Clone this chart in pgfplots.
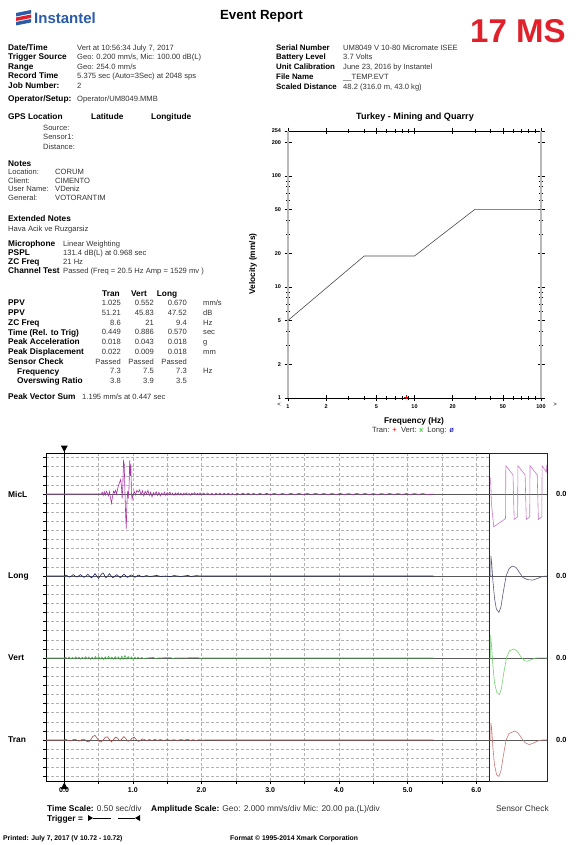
\documentclass[border=0pt]{standalone}
\usepackage{fontspec}
\setmainfont{Liberation Sans}
\usepackage{pgfplots}
\pgfplotsset{compat=1.18}
\definecolor{micc}{HTML}{A832A8}
\definecolor{longc}{HTML}{1E2464}
\definecolor{vertc}{HTML}{3CB43C}
\definecolor{tranc}{HTML}{B04646}
\definecolor{smic}{HTML}{C878C8}
\definecolor{slong}{HTML}{5A5A78}
\definecolor{svert}{HTML}{78D278}
\definecolor{stran}{HTML}{C87878}
\definecolor{instblue}{HTML}{2A5CA8}
\definecolor{msred}{HTML}{E0202A}
\newcommand{\ft}{\fontsize{7.6}{9}\selectfont}
\newcommand{\fb}{\fontsize{8.3}{9}\selectfont\bfseries}
\newcommand{\ff}{\fontsize{8.4}{9}\selectfont}
% label (bold) / value text, y = visual centre measured from the top of the page
\newcommand{\Lb}[3]{\node[anchor=base west,inner sep=0pt,yshift=-2.9pt,font=\fb] at (#1pt,-#2pt) {#3};}
\newcommand{\Lr}[3]{\node[anchor=base west,inner sep=0pt,yshift=-2.8pt,font=\fontsize{7.9}{9}\selectfont\bfseries] at (#1pt,-#2pt) {#3};}
\newcommand{\Tx}[3]{\node[anchor=base west,inner sep=0pt,yshift=-2.7pt,font=\ft,text=black!80] at (#1pt,-#2pt) {#3};}
\newcommand{\Tr}[3]{\node[anchor=base east,inner sep=0pt,yshift=-2.7pt,font=\ft,text=black!80] at (#1pt,-#2pt) {#3};}
\newcommand{\Tc}[3]{\node[anchor=base,inner sep=0pt,yshift=-2.9pt,font=\fb] at (#1pt,-#2pt) {#3};}
\begin{document}
\begin{tikzpicture}
\path[use as bounding box,fill=white] (0pt,0pt) rectangle (580pt,-845pt);

% ---------- header ----------
\begin{scope}[x=1pt,y=1pt]
\fill[instblue] (16,-13) -- (31,-10) -- (31,-13.5) -- (16,-16.5) -- cycle;
\fill[msred] (16,-17.5) -- (31,-14.5) -- (31,-18) -- (16,-21) -- cycle;
\fill[instblue] (16,-22) -- (31,-19) -- (31,-22.5) -- (16,-25.5) -- cycle;
\end{scope}
\node[anchor=base west,inner sep=0pt,font=\fontsize{15}{16}\selectfont\bfseries,text=instblue] at (34pt,-24pt) {Instantel};
\node[anchor=base,inner sep=0pt,font=\fontsize{13.3}{14}\selectfont\bfseries] at (261.5pt,-20pt) {Event Report};
\node[anchor=base west,inner sep=0pt,font=\fontsize{33}{34}\selectfont\bfseries,text=msred] at (470pt,-43pt) {17 MS};

\Lb{8}{48}{Date/Time}        \Tx{77}{48}{Vert at 10:56:34 July 7, 2017}
\Lb{8}{57}{Trigger Source}   \Tx{77}{57}{Geo: 0.200 mm/s, Mic: 100.00 dB(L)}
\Lb{8}{66.5}{Range}          \Tx{77}{66.5}{Geo: 254.0 mm/s}
\Lb{8}{76}{Record Time}      \Tx{77}{76}{5.375 sec (Auto=3Sec) at 2048 sps}
\Lb{8}{85.5}{Job Number:}    \Tx{77}{85.5}{2}
\Lb{8}{99}{Operator/Setup:}  \Tx{77}{99}{Operator/UM8049.MMB}

\Lr{276}{48}{Serial Number}     \Tx{343}{48}{UM8049 V 10-80 Micromate ISEE}
\Lr{276}{57}{Battery Level}     \Tx{343}{57}{3.7 Volts}
\Lr{276}{67}{Unit Calibration}  \Tx{343}{67}{June 23, 2016 by Instantel}
\Lr{276}{77}{File Name}         \Tx{343}{77}{\_\_TEMP.EVT}
\Lr{276}{87}{Scaled Distance}   \Tx{343}{87}{48.2 (316.0 m, 43.0 kg)}

\Lb{8}{117}{GPS Location} \Lb{91}{117}{Latitude} \Lb{151}{117}{Longitude}
\Tx{43}{128}{Source:}
\Tx{43}{137}{Sensor1:}
\Tx{43}{147}{Distance:}
\Lb{8}{163.5}{Notes}
\Tx{8}{172}{Location:}  \Tx{55}{172}{CORUM}
\Tx{8}{180.5}{Client:}  \Tx{55}{180.5}{CIMENTO}
\Tx{8}{189}{User Name:} \Tx{55}{189}{VDeniz}
\Tx{8}{197.5}{General:} \Tx{55}{197.5}{VOTORANTIM}
\Lb{8}{219}{Extended Notes}
\Tx{8}{228.5}{Hava Acik ve Ruzgarsiz}
\Lb{8}{243.5}{Microphone}   \Tx{63}{243.5}{Linear Weighting}
\Lb{8}{253}{PSPL}           \Tx{63}{253}{131.4 dB(L) at 0.968 sec}
\Lb{8}{262}{ZC Freq}        \Tx{63}{262}{21 Hz}
\Lb{8}{270.5}{Channel Test} \Tx{63}{270.5}{Passed (Freq = 20.5 Hz Amp = 1529 mv )}

\Tc{111}{294}{Tran} \Tc{139}{294}{Vert} \Tc{167}{294}{Long}
\Lb{8}{303}{PPV}                 \Tr{121}{303}{1.025} \Tr{154}{303}{0.552} \Tr{187}{303}{0.670} \Tx{203}{303}{mm/s}
\Lb{8}{312.75}{PPV}              \Tr{121}{312.75}{51.21} \Tr{154}{312.75}{45.83} \Tr{187}{312.75}{47.52} \Tx{203}{312.75}{dB}
\Lb{8}{322.5}{ZC Freq}           \Tr{121}{322.5}{8.6} \Tr{154}{322.5}{21} \Tr{187}{322.5}{9.4} \Tx{203}{322.5}{Hz}
\Lb{8}{332.25}{Time (Rel. to Trig)} \Tr{121}{332.25}{0.449} \Tr{154}{332.25}{0.886} \Tr{187}{332.25}{0.570} \Tx{203}{332.25}{sec}
\Lb{8}{342}{Peak Acceleration}   \Tr{121}{342}{0.018} \Tr{154}{342}{0.043} \Tr{187}{342}{0.018} \Tx{203}{342}{g}
\Lb{8}{351.75}{Peak Displacement} \Tr{121}{351.75}{0.022} \Tr{154}{351.75}{0.009} \Tr{187}{351.75}{0.018} \Tx{203}{351.75}{mm}
\Lb{8}{361.5}{Sensor Check}      \Tr{121}{361.5}{Passed} \Tr{154}{361.5}{Passed} \Tr{187}{361.5}{Passed}
\Lb{17}{371.25}{Frequency}       \Tr{121}{371.25}{7.3} \Tr{154}{371.25}{7.5} \Tr{187}{371.25}{7.3} \Tx{203}{371.25}{Hz}
\Lb{17}{381}{Overswing Ratio}    \Tr{121}{381}{3.8} \Tr{154}{381}{3.9} \Tr{187}{381}{3.5}
\Lb{8}{397}{Peak Vector Sum}     \Tx{82}{397}{1.195 mm/s at 0.447 sec}

% ---------- frequency chart ----------
\node[font=\fontsize{9.1}{10}\selectfont\bfseries] at (415pt,-117pt) {Turkey - Mining and Quarry};
\node[rotate=90,font=\fb] at (253pt,-264pt) {Velocity (mm/s)};
\node[font=\fb] at (414pt,-421pt) {Frequency (Hz)};
\node[font=\ft,text=black!80] at (413pt,-431pt) {Tran: {\color{red}+}\ \ Vert: {\color{green!70!black}x}\ \ Long: {\color{blue!70!black}ø}};
\node[font=\fontsize{6}{7}\selectfont] at (279pt,-405pt) {<};
\node[font=\fontsize{6}{7}\selectfont] at (555pt,-405pt) {>};
\begin{axis}[at={(288pt,-398pt)},anchor=south west,scale only axis,width=253pt,height=267pt,
  xmode=log,ymode=log,xmin=1,xmax=100,ymin=1,ymax=254,
  xtick={1,2,5,10,20,50,100},xticklabels={1,2,5,10,20,50,100},
  ytick={1,2,5,10,20,50,100,200,254},yticklabels={1,2,5,10,20,50,100,200,254},
  minor xtick={3,4,6,7,8,9,30,40,60,70,80,90},
  minor ytick={3,4,6,7,8,9,30,40,60,70,80,90},
  tick align=center,xtick pos=both,ytick pos=both,xticklabel pos=bottom,yticklabel pos=left,
  major tick length=7pt,minor tick length=4pt,
  tick style={black,line width=0.6pt},
  separate axis lines,
  x axis line style={black,line width=0.7pt},
  y axis line style={gray!55,line width=1.5pt},
  ticklabel style={font=\bfseries\fontsize{5.5}{6}\selectfont},
  clip=false]
\addplot[black!70,line width=0.6pt] coordinates {(1,5) (4,19) (10,19) (30,50) (100,50)};
\addplot[only marks,mark=+,red,mark size=1.8pt] coordinates {(8.6,1.025)};
\end{axis}

% ---------- waveform panel ----------
\begin{axis}[at={(46.2pt,-781pt)},anchor=south west,scale only axis,width=443.2pt,height=328pt,
  xmin=-0.26,xmax=6.19,ymin=0,ymax=36,clip=false,
  xtick={0,0.5,...,6},xticklabels={0.0,,1.0,,2.0,,3.0,,4.0,,5.0,,6.0},
  ytick={0.5,1.5,...,35.5},yticklabels={},
  grid=major,major grid style={dash pattern=on 3pt off 2pt,gray!60,line width=0.4pt},
  tick align=outside,major tick length=3pt,tick style={black,line width=0.4pt},
  xtick pos=bottom,ytick pos=left,
  axis line style={black,line width=0.8pt},
  xticklabel style={font=\bfseries\fontsize{7}{8}\selectfont}]
\addplot[black,line width=1pt] coordinates {(0,-0.3) (0,36.4)};
\addplot[black!65,line width=0.6pt] coordinates {(-0.26,31.5) (6.19,31.5)};
\addplot[black!65,line width=0.6pt] coordinates {(-0.26,22.5) (6.19,22.5)};
\addplot[black!65,line width=0.6pt] coordinates {(-0.26,13.5) (6.19,13.5)};
\addplot[black!65,line width=0.6pt] coordinates {(-0.26,4.5) (6.19,4.5)};
% MicL
\addplot[micc,line width=0.6pt] table[y expr=\thisrow{v}+31.5] {
t v
-0.26 0
0.54 0
0.555 0.2
0.57 -0.15
0.585 0.25
0.60 -0.1
0.615 0.3
0.63 0.1
0.645 -0.2
0.66 0.25
0.675 -0.4
0.69 -1.0
0.705 -0.3
0.72 0.3
0.735 0.1
0.75 0.4
0.765 0.0
0.78 0.6
0.795 1.0
0.81 1.3
0.825 1.6
0.835 0.8
0.845 -0.5
0.855 0.8
0.865 3.6
0.875 3.3
0.885 0.5
0.895 -2.0
0.905 -3.8
0.915 -1.0
0.925 0.3
0.935 -0.3
0.945 0.6
0.955 3.7
0.965 2.0
0.972 3.3
0.98 0.2
0.99 -0.6
1.00 -0.2
1.02 0.3
1.04 -0.1
1.06 0.4
1.08 0.2
1.10 0.45
1.12 -0.1
1.14 0.35
1.16 -0.2
1.18 0.3
1.20 0.0
1.22 0.4
1.24 -0.15
1.26 0.2
1.28 -0.3
1.30 0.15
1.32 -0.1
1.34 0.25
1.36 -0.15
1.38 0.2
1.40 -0.2
1.42 0.1
1.44 -0.1
1.46 0.2
1.48 -0.15
1.50 0.15
1.52 -0.05
1.54 0.2
1.56 -0.1
1.58 0.1
1.60 -0.15
1.62 0.12
1.64 -0.08
1.66 0.15
1.68 -0.1
1.70 0.1
1.72 -0.12
1.74 0.08
1.76 -0.05
1.78 0.12
1.80 -0.1
1.82 0.08
1.84 -0.12
1.86 0.1
1.88 -0.05
1.90 0.15
1.92 -0.1
1.94 0.1
1.96 -0.08
1.98 0.12
2.00 -0.1
2.03 0.1
2.06 -0.08
2.09 0.12
2.12 -0.1
2.15 0.08
2.18 -0.12
2.21 0.1
2.24 -0.06
2.27 0.1
2.30 -0.1
2.33 0.08
2.36 -0.07
2.39 0.1
2.42 -0.08
2.45 0.06
2.48 -0.1
2.52 0.08
2.56 -0.07
2.60 0.09
2.64 -0.06
2.68 0.08
2.72 -0.07
2.76 0.07
2.80 -0.08
2.85 0.07
2.90 -0.06
2.95 0.07
3.00 -0.07
3.06 0.07
3.12 -0.07
3.18 0.06
3.24 -0.07
3.30 0.07
3.36 -0.06
3.42 0.07
3.48 -0.07
3.54 0.06
3.60 -0.06
3.66 0.07
3.72 -0.06
3.78 0.06
3.84 -0.07
3.90 0.06
3.96 -0.06
4.02 0.07
4.08 -0.06
4.14 0.05
4.20 -0.06
4.26 0.06
4.32 -0.05
4.38 0.06
4.44 -0.06
4.50 0.05
4.56 -0.06
4.62 0.05
4.68 -0.05
4.74 0.06
4.80 -0.05
4.86 0.05
4.92 -0.05
4.98 0.05
5.04 -0.06
5.10 0.05
5.16 -0.05
5.22 0.05
5.28 -0.05
5.375 0
};
% Long
\addplot[longc,line width=0.6pt] table[y expr=\thisrow{v}+22.5] {
t v
-0.26 0
0.00 0
0.027 0.1
0.053 0
0.08 -0.12
0.106 0
0.133 0.15
0.16 0
0.186 -0.12
0.21 0
0.24 0.15
0.265 0
0.29 -0.15
0.32 0
0.345 0.2
0.37 0
0.40 -0.2
0.425 0
0.45 0.25
0.475 0
0.50 -0.25
0.53 0.05
0.555 0.3
0.57 0.335
0.59 0.05
0.61 -0.2
0.635 0
0.66 0.25
0.685 0
0.71 -0.2
0.74 0
0.765 0.15
0.79 0
0.82 -0.2
0.845 0
0.87 0.2
0.90 0
0.925 -0.15
0.95 0
0.98 0.12
1.005 0
1.03 -0.15
1.06 0
1.085 0.1
1.11 0
1.14 -0.1
1.20 0.05
1.25 -0.05
1.35 0.06
1.40 -0.04
1.48 0
1.55 -0.06
1.60 0.05
1.70 -0.05
1.80 0.06
1.85 -0.05
1.92 0.04
2.00 0
5.375 0
};
% Vert
\addplot[vertc,line width=0.6pt] table[y expr=\thisrow{v}+13.5] {
t v
-0.26 0
0.00 0
0.024 0.08
0.048 -0.06
0.072 0.1
0.096 -0.08
0.12 0.06
0.144 -0.1
0.168 0.12
0.192 -0.05
0.216 0.1
0.24 -0.12
0.264 0.08
0.288 -0.1
0.312 0.14
0.336 -0.08
0.36 0.12
0.384 -0.15
0.408 0.1
0.432 -0.12
0.456 0.16
0.48 -0.1
0.504 0.14
0.528 -0.12
0.552 0.1
0.576 -0.16
0.60 0.12
0.624 -0.1
0.648 0.18
0.672 -0.12
0.696 0.1
0.72 -0.14
0.744 0.16
0.768 -0.1
0.792 0.12
0.816 -0.18
0.84 0.2
0.862 -0.15
0.886 0.276
0.91 -0.12
0.934 0.15
0.958 -0.1
0.982 0.12
1.006 -0.15
1.03 0.1
1.054 -0.08
1.078 0.1
1.10 -0.06
1.13 0.05
1.16 -0.05
1.20 0
1.30 0.06
1.33 -0.05
1.36 0
1.55 0.05
1.58 -0.04
1.61 0
1.95 0.04
1.98 -0.03
2.01 0
5.375 0
};
% Tran
\addplot[tranc,line width=0.6pt] table[y expr=\thisrow{v}+4.5] {
t v
-0.26 0
0.00 0
0.03 0.06
0.06 -0.05
0.09 -0.1
0.12 0.0
0.15 0.08
0.18 0.02
0.21 -0.12
0.24 -0.05
0.27 0.1
0.30 0.06
0.33 -0.15
0.36 -0.2
0.39 0.05
0.42 0.4
0.45 0.51
0.48 0.2
0.51 -0.15
0.54 -0.22
0.57 0.0
0.60 0.3
0.63 0.35
0.66 0.05
0.69 -0.2
0.72 0.05
0.75 0.32
0.78 0.2
0.81 -0.1
0.84 0.1
0.87 0.38
0.90 0.15
0.93 -0.15
0.96 -0.05
0.99 0.2
1.02 0.3
1.05 0.05
1.08 -0.15
1.11 -0.05
1.14 0.12
1.17 0.05
1.20 -0.08
1.24 0.05
1.28 -0.05
1.32 0.06
1.36 -0.04
1.40 0.05
1.45 -0.05
1.50 0.04
1.55 -0.03
1.60 0.03
1.65 -0.05
1.70 0.05
1.75 -0.03
1.80 0.08
1.84 -0.06
1.88 0.04
1.92 -0.08
1.96 0.03
2.00 -0.02
2.10 0.02
2.20 0
5.375 0
};
\end{axis}

% ---------- sensor check panel ----------
\begin{axis}[at={(489.4pt,-781pt)},anchor=south west,scale only axis,width=57.6pt,height=328pt,
  xmin=0,xmax=1,ymin=0,ymax=36,ticks=none,
  axis line style={black!85,line width=0.8pt}]
\addplot[black!65,line width=0.6pt] coordinates {(0,31.5) (1,31.5)};
\addplot[black!65,line width=0.6pt] coordinates {(0,22.5) (1,22.5)};
\addplot[black!65,line width=0.6pt] coordinates {(0,13.5) (1,13.5)};
\addplot[black!65,line width=0.6pt] coordinates {(0,4.5) (1,4.5)};
\addplot[smic,line width=0.6pt] table[y expr=\thisrow{v}+31.5] {
t v
0.02 1.8
0.035 -1.0
0.075 -3.6
0.28 -2.7
0.285 3.1
0.41 2.1
0.43 -2.8
0.49 -2.5
0.495 3.1
0.62 2.1
0.64 -2.8
0.70 -2.5
0.705 3.1
0.83 2.1
0.85 -2.8
0.91 -2.5
0.915 3.1
0.99 2.4
0.995 3.2
};
\addplot[slong,line width=0.6pt] table[y expr=\thisrow{v}+22.5] {
t v
0.000 0
0.025 0
0.026 2.2
0.04 1.4
0.06 -0.5
0.09 -2.5
0.12 -3.6
0.165 -4.0
0.20 -3.4
0.24 -1.8
0.29 0
0.34 0.8
0.40 1.1
0.46 0.95
0.52 0.4
0.58 -0.15
0.66 -0.4
0.75 -0.45
0.84 -0.25
0.92 -0.05
1.00 0
};
\addplot[svert,line width=0.6pt] table[y expr=\thisrow{v}+13.5] {
t v
0.000 0
0.02 0
0.021 2.5
0.035 1.5
0.06 -0.8
0.09 -2.8
0.13 -3.8
0.176 -4.0
0.21 -3.3
0.25 -1.6
0.30 0.1
0.35 0.8
0.43 1.0
0.49 0.7
0.55 0.1
0.61 -0.3
0.66 -0.35
0.72 -0.2
0.80 0
0.90 0.02
1.00 0
};
\addplot[stran,line width=0.6pt] table[y expr=\thisrow{v}+4.5] {
t v
0.000 0
0.025 0
0.026 1.9
0.04 1.2
0.06 -0.8
0.09 -2.8
0.125 -3.8
0.165 -4.0
0.20 -3.4
0.24 -1.8
0.29 0
0.34 0.7
0.44 1.0
0.50 0.75
0.56 0.2
0.62 -0.3
0.69 -0.5
0.76 -0.35
0.84 -0.1
0.92 0
1.00 0
};
\end{axis}

\begin{scope}[x=1pt,y=1pt]
% trigger markers
\fill[black] (60.8,-445.5) -- (67.8,-445.5) -- (64.3,-452) -- cycle;
\fill[black] (60.8,-789) -- (67.8,-789) -- (64.3,-782.5) -- cycle;
\fill[black] (88,-815) -- (88,-821) -- (93,-818) -- cycle;
\draw[black,line width=0.6pt] (93,-818) -- (111,-818);
\draw[black,line width=0.6pt] (118,-818) -- (135,-818);
\fill[black] (140,-815) -- (140,-821) -- (135,-818) -- cycle;
\end{scope}

% channel names and zero labels
\foreach \n/\yy in {MicL/494,Long/576,Vert/658,Tran/740}{
  \node[anchor=west,inner sep=0pt,font=\fontsize{8.4}{9}\selectfont\bfseries] at (8pt,-\yy pt) {\n};
  \node[anchor=west,inner sep=0pt,font=\fontsize{7.4}{8}\selectfont\bfseries] at (556pt,-\yy pt) {0.0};
}

% ---------- footer ----------
\node[anchor=base west,inner sep=0pt,font=\ff,text=black!80] at (47pt,-811pt) {\textbf{\color{black}Time Scale:} 0.50 sec/div};
\node[anchor=base west,inner sep=0pt,font=\ff,text=black!80] at (151pt,-811pt) {\textbf{\color{black}Amplitude Scale:} Geo: 2.000 mm/s/div Mic: 20.00 pa.(L)/div};
\node[anchor=base east,inner sep=0pt,font=\ff,text=black!80] at (549pt,-811pt) {Sensor Check};
\node[anchor=base west,inner sep=0pt,font=\ff\bfseries] at (47pt,-821pt) {Trigger =};
\node[anchor=base west,inner sep=0pt,font=\fontsize{6.8}{7}\selectfont\bfseries] at (3pt,-840pt) {Printed: July 7, 2017 (V 10.72 - 10.72)};
\node[anchor=base west,inner sep=0pt,font=\fontsize{6.8}{7}\selectfont\bfseries] at (230pt,-840pt) {Format © 1995-2014 Xmark Corporation};
\end{tikzpicture}
\end{document}
